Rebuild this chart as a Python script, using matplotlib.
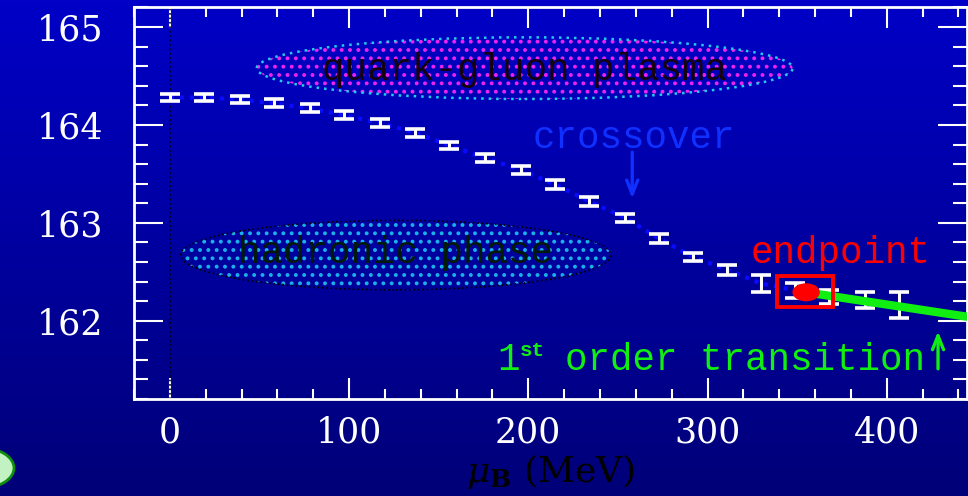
import numpy as np
import matplotlib
matplotlib.use("Agg")
import matplotlib.pyplot as plt
from matplotlib.patches import Ellipse, Rectangle
from matplotlib.ticker import MultipleLocator

# lattice points: baryon chemical potential (MeV) vs temperature (MeV)
mu_B = [0, 19, 39, 58, 78, 97, 117, 137, 156, 176, 196,
        215, 234, 254, 273, 292, 311, 330, 349, 368, 388, 407]
T_c = [164.28, 164.28, 164.26, 164.22, 164.17, 164.10, 164.02, 163.92,
       163.79, 163.66, 163.54, 163.39, 163.22, 163.05, 162.84, 162.65,
       162.52, 162.38, 162.31, 162.24, 162.21, 162.16]
T_err = [0.04, 0.04, 0.04, 0.04, 0.04, 0.04, 0.04, 0.04, 0.04, 0.04, 0.04,
         0.045, 0.045, 0.045, 0.045, 0.045, 0.05, 0.09, 0.08, 0.07, 0.08, 0.13]

# crossover line runs up to the endpoint, first order line after it
endpoint_mu, endpoint_T = 355, 162.29
first_order_mu = [355, 445]
first_order_T = [162.29, 162.04]

x_ticks = [0, 100, 200, 300, 400]
y_ticks = [162, 163, 164, 165]

plt.rcParams["mathtext.fontset"] = "dejavuserif"
plt.rcParams["hatch.linewidth"] = 1.6
mono = "Liberation Mono"

fig = plt.figure(figsize=(9.68, 4.96), dpi=100)

# background gradient
bg = fig.add_axes([0, 0, 1, 1], zorder=-10)
grad = np.linspace(0, 1, 256).reshape(-1, 1)
top = np.array([0.0, 0.0, 0.78])
bot = np.array([0.0, 0.0, 0.47])
img = top + (bot - top) * grad[..., None]
bg.imshow(img, aspect="auto", extent=[0, 1, 0, 1], origin="upper")
bg.set_xlim(0, 1)
bg.set_ylim(0, 1)
bg.axis("off")

# leftover slide shape at bottom-left
bg.add_patch(Ellipse((-18 / 968, 1 - 468 / 496), 64 / 968, 40 / 496,
                     facecolor="#c2f2c2", edgecolor="#109010", lw=2))

ax = fig.add_axes([0.1384, 0.1956, 0.8610, 0.7893])
ax.set_facecolor("none")
ax.set_xlim(-20, 445)
ax.set_ylim(161.2, 165.2)

# phase regions
ax.add_patch(Ellipse((198, 164.58), 299, 0.63, facecolor="none",
                     edgecolor="#ee22ee", hatch="..", lw=0, zorder=1))
ax.add_patch(Ellipse((198, 164.58), 299, 0.63, facecolor="none",
                     edgecolor="#22ccee", lw=1.8, ls=(0, (1, 2)), zorder=1))
ax.add_patch(Ellipse((126, 162.67), 240, 0.71, facecolor="none",
                     edgecolor="#1ab0e8", hatch="..", lw=0, zorder=1))
ax.add_patch(Ellipse((126, 162.67), 240, 0.71, facecolor="none",
                     edgecolor="black", lw=1.2, ls=":", zorder=1))

ax.text(198, 164.56, "quark-gluon plasma", family=mono, fontsize=27,
        color="#14000f", ha="center", va="center", zorder=2)
ax.text(126, 162.69, "hadronic phase", family=mono, fontsize=27,
        color="#001a0a", ha="center", va="center", zorder=2)

ax.axvline(0, color="black", ls=":", lw=1.2, zorder=2)

# crossover (dotted) through the points up to the endpoint
cross_mu = [m for m in mu_B if m <= 349] + [endpoint_mu]
cross_T = T_c[:len(cross_mu) - 1] + [endpoint_T]
ax.plot(cross_mu, cross_T, color="#0a0aff", ls=(0, (1, 1.4)), lw=3, zorder=3)

ax.errorbar(mu_B, T_c, yerr=T_err, fmt="none", ecolor="white",
            elinewidth=2.2, capsize=7, capthick=2.6, zorder=4)

ax.plot(first_order_mu, first_order_T, color="#11ee11", lw=6,
        solid_capstyle="butt", zorder=5)
ax.add_patch(Rectangle((339, 162.14), 31, 0.315, facecolor="none",
                       edgecolor="#ff0000", lw=2.8, zorder=6))
ax.add_patch(Ellipse((endpoint_mu, endpoint_T), 15.3, 0.184,
                     facecolor="#ff0000", edgecolor="none", zorder=7))

ax.text(374, 162.69, "endpoint", family=mono, fontsize=27, color="#ff0000",
        ha="center", va="center", zorder=6)
ax.text(259, 163.87, "crossover", family=mono, fontsize=27, color="#1030ff",
        ha="center", va="center", zorder=6)
ax.annotate("", xy=(258, 163.22), xytext=(258, 163.75),
            arrowprops=dict(arrowstyle="->,head_length=1.0,head_width=0.4",
                            color="#1030ff", lw=2.4))

ax.text(182.5, 161.6, "1", family=mono, fontsize=27, color="#11ee11",
        ha="left", va="center", zorder=6)
ax.text(195, 161.7, "st", family=mono, fontsize=15, color="#11ee11",
        ha="left", va="center", weight="bold", zorder=6)
ax.text(220.5, 161.6, "order transition", family=mono, fontsize=27,
        color="#11ee11", ha="left", va="center", zorder=6)
ax.annotate("", xy=(428.6, 161.92), xytext=(428.6, 161.48),
            arrowprops=dict(arrowstyle="->,head_length=1.0,head_width=0.4",
                            color="#11ee11", lw=2.4))

# axes styling
for s in ax.spines.values():
    s.set_color("white")
    s.set_linewidth(2)

ax.set_xticks(x_ticks)
ax.set_yticks(y_ticks)
ax.xaxis.set_minor_locator(MultipleLocator(20))
ax.yaxis.set_minor_locator(MultipleLocator(0.2))
ax.tick_params(axis="x", which="major", direction="in", top=True, length=15,
               width=1.5, color="white", pad=12, labelsize=25,
               labelcolor="white")
ax.tick_params(axis="x", which="minor", direction="in", top=True, length=7.5,
               width=1.5, color="white")
ax.tick_params(axis="y", which="major", direction="in", right=True, length=21,
               width=1.5, color="white", pad=22, labelsize=25,
               labelcolor="white")
ax.tick_params(axis="y", which="minor", direction="in", right=True, length=10,
               width=1.5, color="white")
for lab in ax.get_xticklabels() + ax.get_yticklabels():
    lab.set_family("DejaVu Serif")

ax.set_xlabel(r"$\mu_{\mathbf{B}}$ (MeV)", family="DejaVu Serif",
              fontsize=26, color="black", labelpad=2)

fig.savefig("out.png", dpi=100)
